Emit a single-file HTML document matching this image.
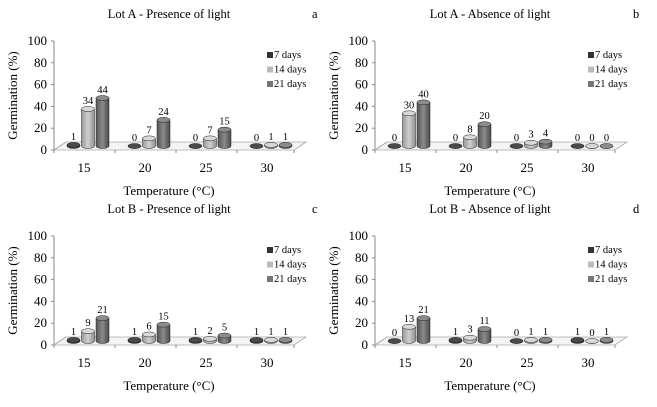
<!DOCTYPE html>
<html><head><meta charset="utf-8"><style>
body{margin:0;background:#fff;}
svg text{font-family:"Liberation Serif",serif;fill:#000;}
</style></head><body>
<svg id="c" width="657" height="402" viewBox="0 0 657 402">
<defs>
<linearGradient id="g0" x1="0" x2="1"><stop offset="0" stop-color="#2a2a2a"/><stop offset="0.5" stop-color="#555"/><stop offset="1" stop-color="#222"/></linearGradient>
<linearGradient id="g1" x1="0" x2="1"><stop offset="0" stop-color="#9a9a9a"/><stop offset="0.5" stop-color="#cfcfcf"/><stop offset="1" stop-color="#909090"/></linearGradient>
<linearGradient id="g2" x1="0" x2="1"><stop offset="0" stop-color="#555"/><stop offset="0.5" stop-color="#8a8a8a"/><stop offset="1" stop-color="#4a4a4a"/></linearGradient>
</defs>
</svg>
<script>
const categories=["15","20","25","30"];
const seriesNames=["7 days","14 days","21 days"];
const yTicks=[0,20,40,60,80,100];
const titles=["Lot A - Presence of light","Lot A - Absence of light","Lot B - Presence of light","Lot B - Absence of light"];
const letters=["a","b","c","d"];
const aDay7=[1,0,0,0], aDay14=[34,7,7,1], aDay21=[44,24,15,1];
const bDay7=[0,0,0,0], bDay14=[30,8,3,0], bDay21=[40,20,4,0];
const cDay7=[1,1,1,1], cDay14=[9,6,2,1], cDay21=[21,15,5,1];
const dDay7=[0,1,0,1], dDay14=[13,3,1,0], dDay21=[21,11,1,1];
const panelData=[[aDay7,aDay14,aDay21],[bDay7,bDay14,bDay21],[cDay7,cDay14,cDay21],[dDay7,dDay14,dDay21]];

const svg=document.getElementById('c');
const NS='http://www.w3.org/2000/svg';
function mk(tag,attrs,parent){const e=document.createElementNS(NS,tag);for(const k in attrs)e.setAttribute(k,attrs[k]);(parent||svg).appendChild(e);return e;}
const fills=['url(#g0)','url(#g1)','url(#g2)'];
const tops=['#4a4a4a','#d8d8d8','#8c8c8c'];
const legendFill=['#333','#bbb','#777'];

panelData.forEach((series,p)=>{
  const ox=p%2?321:0, oy=p>1?195:0;
  const ax=54+ox, y0=150+oy, ppu=1.09;
  const yS=v=>y0-v*ppu;
  const xC=i=>ax+34+i*61;
  const g=mk('g',{});
  
  
  const t=mk('text',{x:ax+115,y:18+oy,'font-size':12.5,'text-anchor':'middle'},g);t.textContent=titles[p];
  
  const l=mk('text',{x:ax+258,y:18+oy,'font-size':12.5},g);l.textContent=letters[p];
  
  mk('line',{x1:ax,y1:yS(100),x2:ax,y2:y0+2,stroke:'#888'},g);
  yTicks.forEach(v=>{
    mk('line',{x1:ax-3,y1:yS(v),x2:ax,y2:yS(v),stroke:'#888'},g);
    const tt=mk('text',{x:ax-7,y:yS(v)+4,'font-size':13,'text-anchor':'end'},g);tt.textContent=v;
    
  });
  const yt=mk('text',{transform:`translate(${ax-37},${yS(50)}) rotate(-90)`,'font-size':13,'text-anchor':'middle'},g);yt.textContent='Germination (%)';
  
  const fl=mk('polygon',{points:`${ax},${y0} ${ax+240},${y0} ${ax+252},${y0-8} ${ax+12},${y0-8}`,fill:'#f4f4f4',stroke:'#aaa','stroke-width':0.8},g);
  
  mk('line',{x1:ax,y1:y0,x2:ax+12,y2:y0-8,stroke:'#aaa'},g);
  categories.forEach((c,i)=>{
    const ct=mk('text',{x:xC(i)-4,y:y0+22,'font-size':13,'text-anchor':'middle'},g);ct.textContent=c;
    
    mk('line',{x1:ax+i*61,y1:y0,x2:ax+i*61,y2:y0+3,stroke:'#888'},g);
    series.forEach((arr,s)=>{
      const v=arr[i];
      const cx=xC(i)+(s-1)*14.5, w=13, base=y0-4, top=base-v*ppu;
      const bar=mk('path',{d:`M${cx-w/2},${top} L${cx-w/2},${base} A${w/2},2.5 0 0 0 ${cx+w/2},${base} L${cx+w/2},${top} Z`,fill:fills[s],stroke:'#222','stroke-width':0.5},g);
      
      mk('ellipse',{cx:cx,cy:top,rx:w/2,ry:2.5,fill:tops[s],stroke:'#222','stroke-width':0.5},g);
      const vl=mk('text',{x:cx,y:top-5,'font-size':10.5,'text-anchor':'middle'},g);vl.textContent=v;
      
    });
  });
  mk('line',{x1:ax+240,y1:y0,x2:ax+240,y2:y0+3,stroke:'#888'},g);
  const xt=mk('text',{x:ax+115,y:y0+45,'font-size':13,'text-anchor':'middle'},g);xt.textContent='Temperature (°C)';
  
  seriesNames.forEach((n,s)=>{
    const ly=oy+58+s*14.5;
    const r=mk('rect',{x:ax+213,y:ly-6,width:6,height:6,fill:legendFill[s]},g);
    
    const lt=mk('text',{x:ax+220,y:ly,'font-size':10.5},g);lt.textContent=n;
    
  });
});
</script>
</body></html>
